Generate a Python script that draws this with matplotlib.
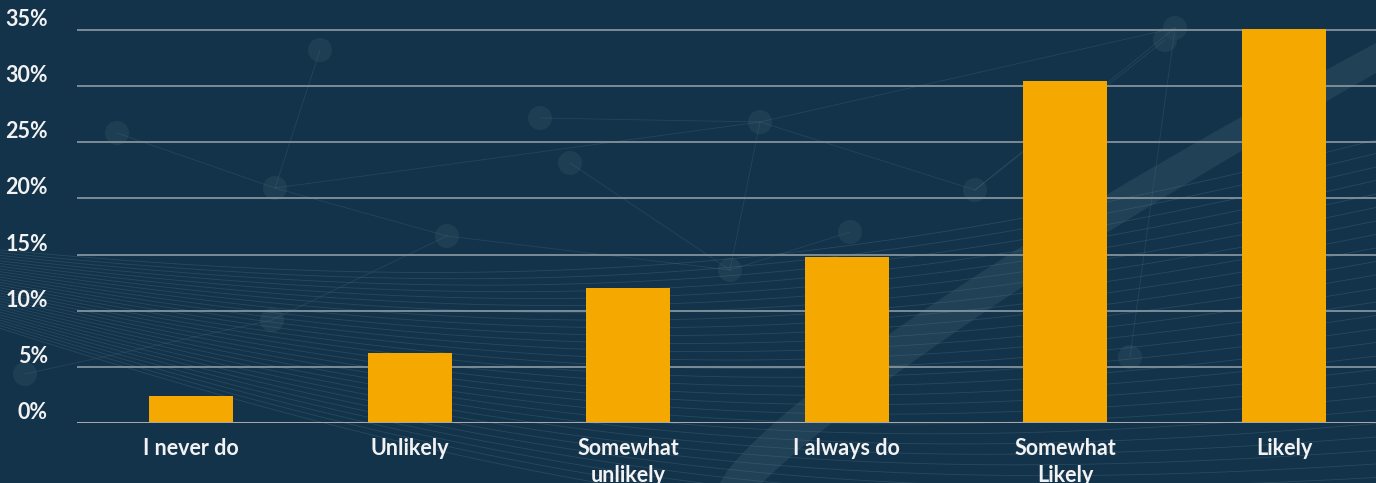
import numpy as np
import matplotlib
matplotlib.use("Agg")
import matplotlib.pyplot as plt
import matplotlib.transforms as mtrans
from matplotlib.ticker import FuncFormatter

categories = ["I never do", "Unlikely", "Somewhat\nunlikely", "I always do", "Somewhat\nLikely", "Likely"]
values = [2.4, 6.2, 12.0, 14.8, 30.5, 35.1]
yticks = [0, 5, 10, 15, 20, 25, 30, 35]

BG = "#13334a"
BAR = "#f5a800"
W, H = 1376, 483

plt.rcParams['font.family'] = ['Lato', 'DejaVu Sans']
fig = plt.figure(figsize=(W / 100, H / 100), dpi=100)
fig.patch.set_facecolor(BG)

# decorative background
bg = fig.add_axes([0, 0, 1, 1], zorder=0)
bg.set_xlim(0, W)
bg.set_ylim(H, 0)
bg.axis("off")
bg.set_facecolor(BG)
t = np.linspace(0, 1, 200)
xs = t * W
for k in range(30):
    off = k * 9
    y = 250 + off * (0.3 + 1.2 * t) + 40 * np.sin(np.pi * t) - 110 * t ** 2
    bg.plot(xs, y, color="#5a7a8e", lw=0.6, alpha=0.3)
# light band
bx = np.linspace(720, W, 100)
u = (bx - 720) / (W - 720)
ytop = 483 - 440 * u ** 0.8
bg.fill_between(bx, ytop, ytop + 30 + 20 * (1 - u), color="#3d5e72", alpha=0.35, lw=0)
# faint network lines and nodes
pts = [(275, 188), (760, 122), (1175, 28), (1165, 40), (447, 236), (730, 270), (1130, 357),
       (25, 374), (272, 320), (540, 118), (570, 163), (320, 50), (117, 133), (850, 232), (975, 190)]
for (px, py) in pts:
    bg.add_patch(plt.Circle((px, py), 12, color="#26465b", alpha=0.6, lw=0))
links = [(0, 1), (1, 2), (0, 4), (4, 5), (5, 1), (2, 6), (1, 14), (14, 2), (0, 11), (9, 1), (10, 5),
         (7, 8), (8, 4), (12, 0), (13, 5), (3, 14)]
for a, b in links:
    bg.plot([pts[a][0], pts[b][0]], [pts[a][1], pts[b][1]], color="#4d6c80", lw=0.6, alpha=0.3)

# main chart
x0_pix, y0_pix = 77, 423
ax = fig.add_axes([x0_pix / W, (H - y0_pix) / H, (W - x0_pix) / W, y0_pix / H], zorder=1)
ax.patch.set_alpha(0)
x = np.arange(len(categories))
ax.bar(x, values, width=0.384, color=BAR, zorder=3)
ax.set_xlim(-0.522, 5.421)
ax.set_ylim(0, 35 * 423 / 393)
ax.set_yticks(yticks)
ax.yaxis.set_major_formatter(FuncFormatter(lambda v, p: f"{int(v)}%"))
ax.set_xticks(x)
ax.set_xticklabels(categories, linespacing=1.35)
for s in ax.spines.values():
    s.set_visible(False)
ax.grid(axis="y", color="#8d9aa3", lw=1.2, zorder=1)
ax.axhline(0, color="#a8a8a8", lw=2.2, zorder=4)
ax.tick_params(axis="both", length=0, colors="#f2f2f2", labelsize=15.5)
ax.tick_params(axis="y", pad=21)
ax.tick_params(axis="x", pad=11)
shift = mtrans.ScaledTranslation(0, 4 / 100, fig.dpi_scale_trans)
for lab in ax.get_yticklabels():
    lab.set_fontweight("bold")
    lab.set_va("baseline")
    lab.set_transform(lab.get_transform() + shift)
for lab in ax.get_xticklabels():
    lab.set_fontweight("bold")

fig.savefig("out.png", dpi=100, facecolor=BG)
